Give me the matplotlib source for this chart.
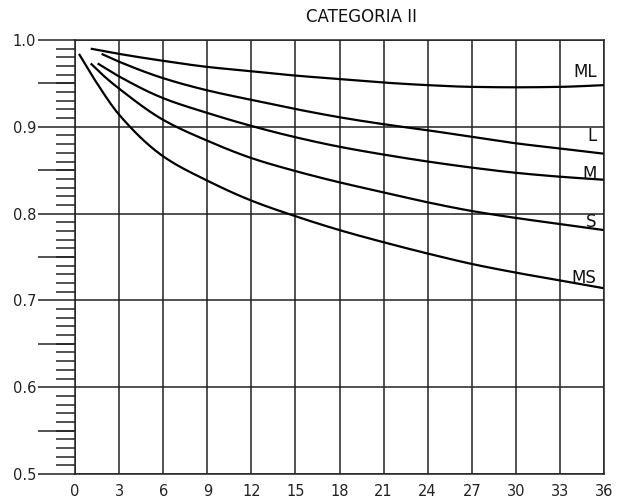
import numpy as np
import matplotlib
matplotlib.use("Agg")
import matplotlib.pyplot as plt
from matplotlib.ticker import MultipleLocator

# curvas (mes, factor)
ml_x = [1.07, 3, 6, 9, 12, 15, 18, 21, 24, 27, 30, 33, 36]
ml_y = [0.990, 0.984, 0.976, 0.969, 0.964, 0.959, 0.955, 0.951, 0.948, 0.946, 0.9455, 0.946, 0.948]

l_x = [1.81, 3, 6, 9, 12, 15, 18, 21, 24, 27, 30, 33, 36]
l_y = [0.984, 0.975, 0.956, 0.942, 0.931, 0.9205, 0.911, 0.903, 0.896, 0.8885, 0.881, 0.875, 0.869]

m_x = [1.54, 3, 6, 9, 12, 15, 18, 21, 24, 27, 30, 33, 36]
m_y = [0.973, 0.958, 0.933, 0.916, 0.901, 0.888, 0.877, 0.868, 0.86, 0.853, 0.847, 0.8425, 0.839]

s_x = [1.07, 2, 3, 6, 9, 12, 15, 18, 21, 24, 27, 30, 33, 36]
s_y = [0.973, 0.958, 0.944, 0.908, 0.884, 0.864, 0.849, 0.836, 0.8245, 0.813, 0.803, 0.795, 0.788, 0.781]

ms_x = [0.27, 1.5, 3, 6, 9, 12, 15, 18, 21, 24, 27, 30, 33, 36]
ms_y = [0.984, 0.950, 0.914, 0.866, 0.838, 0.815, 0.797, 0.781, 0.767, 0.754, 0.742, 0.732, 0.723, 0.714]

labels = ["ML", "L", "M", "S", "MS"]
label_y = [0.9574, 0.884, 0.840, 0.785, 0.720]


def pchip(x, y, n=200):
    # curva suave monotona que pasa por los puntos leidos
    x = np.asarray(x, float)
    y = np.asarray(y, float)
    h = np.diff(x)
    d = np.diff(y) / h
    m = np.zeros_like(y)
    for k in range(1, len(x) - 1):
        if d[k - 1] * d[k] > 0:
            w1 = 2 * h[k] + h[k - 1]
            w2 = h[k] + 2 * h[k - 1]
            m[k] = (w1 + w2) / (w1 / d[k - 1] + w2 / d[k])
    m[0] = d[0]
    m[-1] = d[-1]
    xs = np.linspace(x[0], x[-1], n)
    i = np.clip(np.searchsorted(x, xs) - 1, 0, len(h) - 1)
    t = (xs - x[i]) / h[i]
    h00 = 2 * t**3 - 3 * t**2 + 1
    h10 = t**3 - 2 * t**2 + t
    h01 = -2 * t**3 + 3 * t**2
    h11 = t**3 - t**2
    ys = h00 * y[i] + h10 * h[i] * m[i] + h01 * y[i + 1] + h11 * h[i] * m[i + 1]
    return xs, ys


fig = plt.figure(figsize=(6.26, 5.01), dpi=100)
ax = fig.add_axes([75 / 626, 27 / 501, 529 / 626, 434 / 501])

for xs, ys in [(ml_x, ml_y), (l_x, l_y), (m_x, m_y), (s_x, s_y), (ms_x, ms_y)]:
    cx, cy = pchip(xs, ys)
    ax.plot(cx, cy, color="black", lw=1.6, solid_capstyle="butt")

for lab, ly in zip(labels, label_y):
    ax.text(35.5, ly, lab, ha="right", va="baseline", fontsize=12, color="#111111")

ax.set_xlim(0, 36)
ax.set_ylim(0.5, 1.0)
ax.set_xticks(np.arange(0, 37, 3))
ax.set_yticks([0.5, 0.6, 0.7, 0.8, 0.9, 1.0])
ax.set_yticklabels(["0.5", "0.6", "0.7", "0.8", "0.9", "1.0"])
ax.yaxis.set_minor_locator(MultipleLocator(0.01))

ax.grid(True, which="major", color="#222222", lw=1.1)
ax.tick_params(axis="x", length=0, pad=7, labelsize=10.5, colors="#222222")
ax.tick_params(axis="y", which="major", length=27, width=1.1, pad=1,
               labelsize=10.5, colors="#222222")
ax.tick_params(axis="y", which="minor", length=14, width=1.1, color="#222222")
for sp in ax.spines.values():
    sp.set_color("#222222")
    sp.set_linewidth(1.1)

# ticks de 0.05 mas largos
ax.hlines([0.55, 0.65, 0.75, 0.85, 0.95], -37 / 529 * 36, 0, color="#222222",
          lw=1.1, clip_on=False)

fig.text(362 / 626, 1 - 17 / 501, "CATEGORIA II", ha="center", va="center",
         fontsize=12, color="#111111")

fig.savefig("out.png", dpi=100)
